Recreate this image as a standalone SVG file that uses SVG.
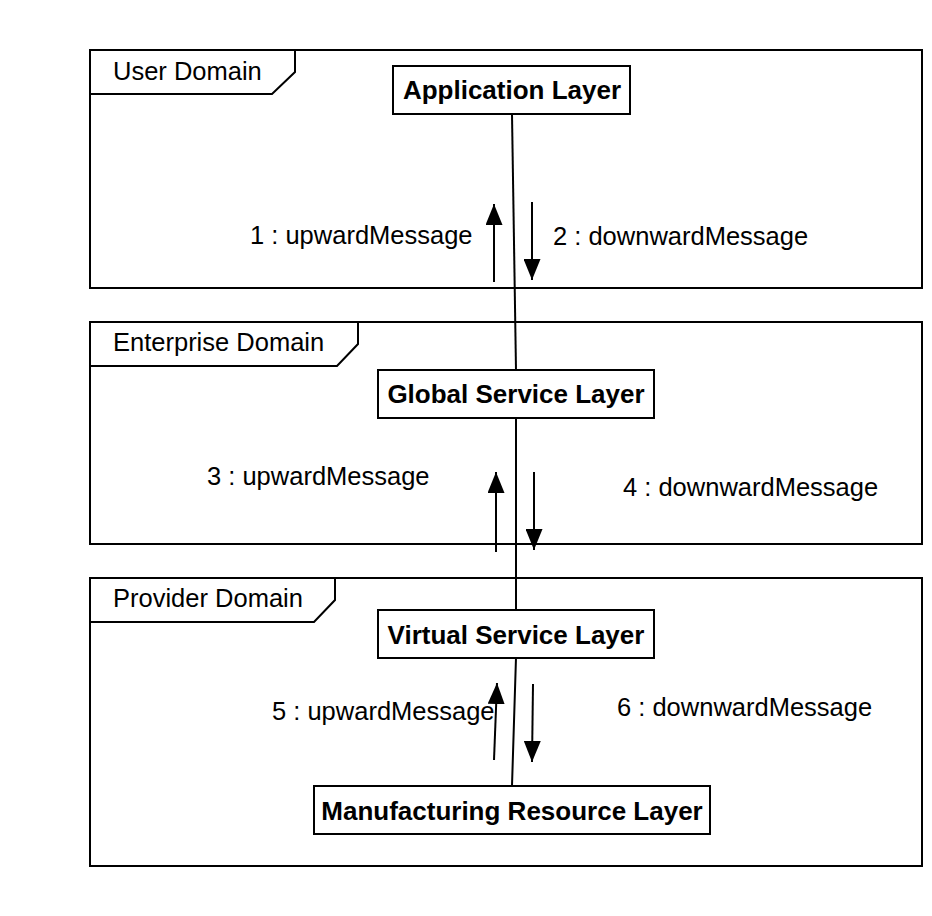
<svg xmlns="http://www.w3.org/2000/svg" width="932" height="916" viewBox="0 0 932 916">
<style>
.frame{fill:none;stroke:#000;stroke-width:2}
.box{fill:#fff;stroke:#000;stroke-width:2}
.t{font-family:"Liberation Sans",Arial,sans-serif;font-size:25.5px;fill:#000}
.b{font-family:"Liberation Sans",Arial,sans-serif;font-size:26px;font-weight:bold;fill:#000;text-anchor:middle}
.ln{stroke:#000;stroke-width:2;fill:none}
</style>
<defs>
<marker id="ah" viewBox="0 0 21 17" refX="21" refY="8.5" markerWidth="21" markerHeight="17" markerUnits="userSpaceOnUse" orient="auto">
<path d="M0,0 L21,8.5 L0,17 Z" fill="#000"/>
</marker>
</defs>
<rect width="932" height="916" fill="#fff"/>
<g id="user-domain">
<rect class="frame" x="90" y="50" width="832" height="238"/>
<path class="frame" d="M90,94 L272,94 L295,72 L295,50"/>
<text class="t" x="113" y="80">User Domain</text>
</g>
<g id="enterprise-domain">
<rect class="frame" x="90" y="322" width="832" height="222"/>
<path class="frame" d="M90,366 L337,366 L358,344 L358,322"/>
<text class="t" x="113" y="351">Enterprise Domain</text>
</g>
<g id="provider-domain">
<rect class="frame" x="90" y="578" width="832" height="288"/>
<path class="frame" d="M90,622 L314,622 L335,600 L335,578"/>
<text class="t" x="113" y="607">Provider Domain</text>
</g>
<g id="connectors">
<line class="ln" x1="512" y1="114" x2="516" y2="370"/>
<line class="ln" x1="516" y1="418" x2="516" y2="610"/>
<line class="ln" x1="516" y1="658" x2="512" y2="786"/>
<line class="ln" x1="494" y1="282" x2="494" y2="204" marker-end="url(#ah)"/>
<line class="ln" x1="532" y1="202" x2="532" y2="280" marker-end="url(#ah)"/>
<line class="ln" x1="496" y1="552" x2="496" y2="472" marker-end="url(#ah)"/>
<line class="ln" x1="534" y1="472" x2="534" y2="550" marker-end="url(#ah)"/>
<line class="ln" x1="494" y1="760" x2="497" y2="683" marker-end="url(#ah)"/>
<line class="ln" x1="533" y1="684" x2="532" y2="762" marker-end="url(#ah)"/>
<text class="t" x="250" y="244">1 : upwardMessage</text>
<text class="t" x="553" y="245">2 : downwardMessage</text>
<text class="t" x="207" y="485">3 : upwardMessage</text>
<text class="t" x="623" y="496">4 : downwardMessage</text>
<text class="t" x="272" y="720">5 : upwardMessage</text>
<text class="t" x="617" y="716">6 : downwardMessage</text>
</g>
<g id="application-layer">
<rect class="box" x="393" y="66" width="237" height="48"/>
<text class="b" x="512" y="99">Application Layer</text>
</g>
<g id="global-service-layer">
<rect class="box" x="378" y="370" width="276" height="48"/>
<text class="b" x="516" y="403">Global Service Layer</text>
</g>
<g id="virtual-service-layer">
<rect class="box" x="378" y="610" width="276" height="48"/>
<text class="b" x="516" y="644">Virtual Service Layer</text>
</g>
<g id="manufacturing-resource-layer">
<rect class="box" x="314" y="786" width="396" height="48"/>
<text class="b" x="512" y="820">Manufacturing Resource Layer</text>
</g>
</svg>
